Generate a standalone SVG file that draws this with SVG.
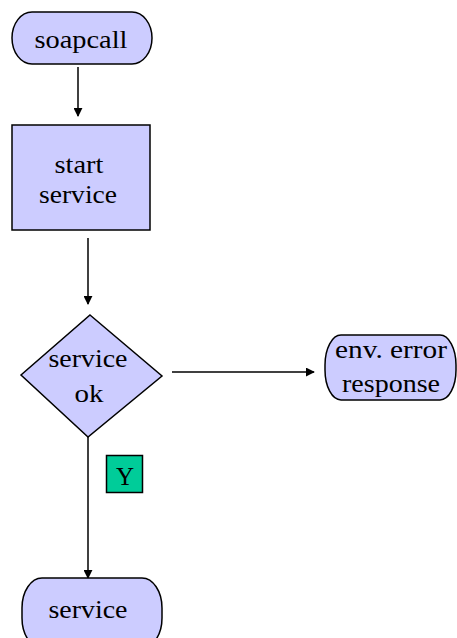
<svg xmlns="http://www.w3.org/2000/svg" width="457" height="638" viewBox="0 0 457 638">
<defs>
<style>
.n{fill:#ccccff;stroke:#000;stroke-width:1.5}
.t{font-family:"Liberation Serif",serif;font-size:25px;fill:#000;text-anchor:middle}
.c{stroke:#000;stroke-width:1.5;fill:none;marker-end:url(#ah)}
</style>
<marker id="ah" viewBox="0 0 10 10" refX="9" refY="5" markerWidth="9" markerHeight="9" orient="auto" markerUnits="userSpaceOnUse">
<path d="M0,0 L10,5 L0,10 z" fill="#000"/>
</marker>
</defs>
<rect width="457" height="638" fill="#fff"/>
<g id="connectors">
<line class="c" x1="78" y1="67" x2="78" y2="116"/>
<line class="c" x1="88" y1="238" x2="88" y2="304"/>
<line class="c" x1="172" y1="372" x2="314" y2="372"/>
<line class="c" x1="88" y1="437" x2="88" y2="578"/>
</g>
<g id="soapcall">
<rect class="n" x="12" y="12" width="140" height="52" rx="20" ry="26"/>
<text class="t" x="81" y="48" textLength="93" lengthAdjust="spacingAndGlyphs">soapcall</text>
</g>
<g id="start-service">
<rect class="n" x="12" y="125" width="138" height="105"/>
<text class="t" x="79" y="173" textLength="49" lengthAdjust="spacingAndGlyphs">start</text>
<text class="t" x="78" y="203" textLength="78" lengthAdjust="spacingAndGlyphs">service</text>
</g>
<g id="service-ok">
<polygon class="n" points="90,315 162,376 88,437 21,375"/>
<text class="t" x="88" y="367" textLength="79" lengthAdjust="spacingAndGlyphs">service</text>
<text class="t" x="89" y="402" textLength="29" lengthAdjust="spacingAndGlyphs">ok</text>
</g>
<g id="env-error">
<rect class="n" x="325" y="335" width="131" height="65" rx="16" ry="30"/>
<text class="t" x="391" y="358" textLength="112" lengthAdjust="spacingAndGlyphs">env. error</text>
<text class="t" x="391" y="392" textLength="98" lengthAdjust="spacingAndGlyphs">response</text>
</g>
<g id="label-y">
<rect x="106.5" y="455.5" width="36" height="37" fill="#00cc99" stroke="#000" stroke-width="1.5"/>
<text class="t" x="125" y="485">Y</text>
</g>
<g id="service">
<rect class="n" x="22" y="578" width="140" height="70" rx="20" ry="30"/>
<text class="t" x="88" y="618" textLength="79" lengthAdjust="spacingAndGlyphs">service</text>
</g>
</svg>
